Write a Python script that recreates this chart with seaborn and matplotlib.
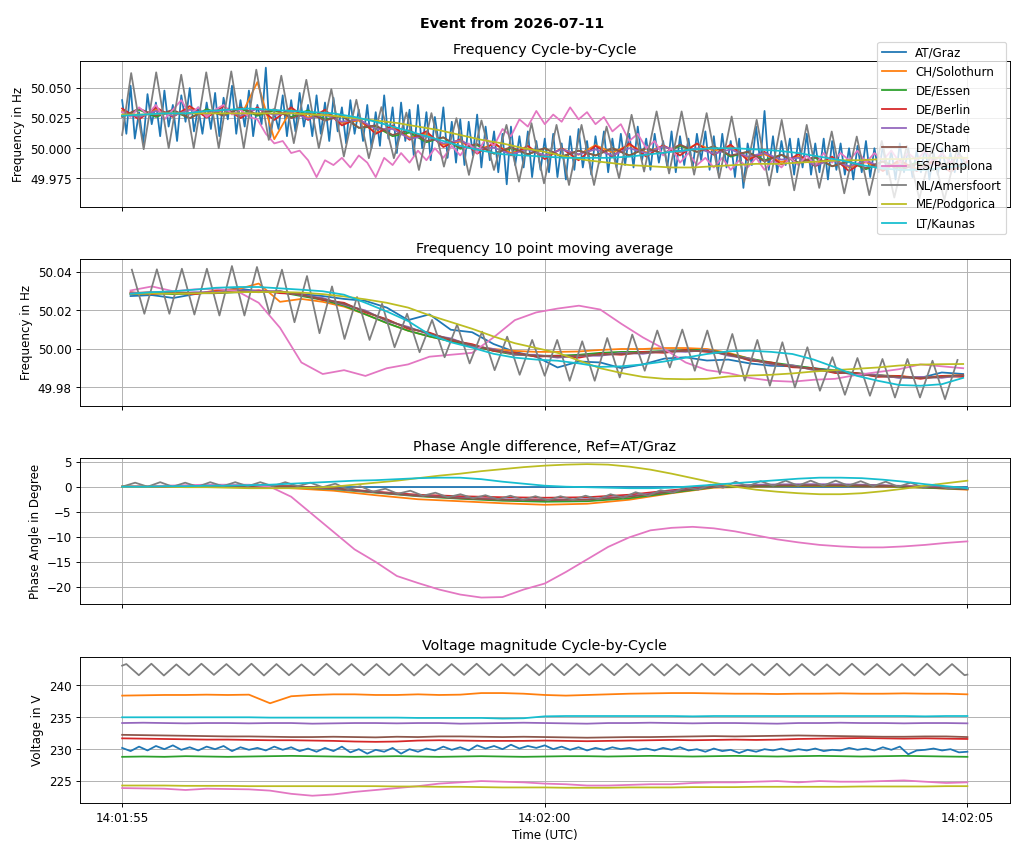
import numpy as np
import pandas as pd
import matplotlib
matplotlib.use("Agg")
import matplotlib.pyplot as plt
import matplotlib.dates as mdates
import seaborn as sns

stations = ["AT/Graz", "CH/Solothurn", "DE/Essen", "DE/Berlin", "DE/Stade",
            "DE/Cham", "ES/Pamplona", "NL/Amersfoort", "ME/Podgorica", "LT/Kaunas"]
start = pd.Timestamp("2026-07-11 14:01:55")
F_NOM = 50.0  # frequency lists below are deviations from 50 Hz in mHz

# sample times in seconds after 14:01:55
t_005 = np.round(np.arange(201) * 0.05, 2)
t_01 = np.round(np.arange(101) * 0.1, 2)
t_02 = np.round(np.arange(51) * 0.2, 2)
t_025 = np.round(np.arange(41) * 0.25, 2)
t_05 = np.round(np.arange(21) * 0.5, 2)
t_ma = np.linspace(0.1, 9.95, 40)
t_osc1 = np.concatenate([[0.0], 0.107 + 0.148 * np.arange(67), [10.0]])
t_osc2 = 0.115 + 0.148 * np.arange(67)
t_osc3 = np.concatenate([[0.0], 0.154 + 0.148 * np.arange(67), [10.0]])
t_osc4 = np.concatenate([[0.0], 0.05 + 0.148 * np.arange(68), [10.0]])

# ---- Frequency cycle-by-cycle (mHz from 50 Hz)
f1_graz = [40, 12, 52, 8, 30, 4, 45, 20, 38, 10, 48, 18, 36, 6, 44, 22, 50, 14, 34, 12,
           38, 16, 46, 10, 42, 24, 52, 12, 40, 18, 48, 10, 36, 20, 67, 8, 30, 16, 44, 10,
           40, 14, 46, 18, 36, 10, 44, 12, 38, 6, 42, 14, 34, 4, 40, 12, 32, 6, 36, 0,
           30, 2, 44, 8, 34, -4, 38, 6, 32, -6, 36, 0, 30, -10, 26, 2, 34, -8, 22, -12,
           24, -14, 22, -6, 28, -16, 18, -10, 14, -20, 12, -30, 18, -14, 10, -16, 14, -24, 6, -18,
           8, -20, 12, -24, 4, -26, 10, -18, 16, -16, 6, -22, 10, -12, 14, -20, 8, -16, 12, -14,
           12, -16, 18, -10, 8, -18, 12, -12, 6, -16, 14, -20, 10, -14, 8, -16, 12, -10, 14, -18,
           10, -20, 12, -16, 6, -24, 8, -33, 4, -14, 18, -12, 31, -18, 10, -20, 6, -14, 8, -22,
           8, -16, 12, -22, 4, -20, 8, -26, 6, -18, 4, -22, 0, -26, 2, -20, 6, -24, 0, -20,
           2, -22, -2, -26, 4, -20, 0, -24, -2, -20, 2, -26, -4, -22, 0, -18, -4, -20, -2, -16,
           -14]
f1_solothurn = [31, 26, 32, 27, 33, 26.5, 32, 26, 55, 7.5,
                32, 25.5, 30, 21, 23, 13, 17, 9, 12, 3,
                5.5, -1.5, 3.5, -4, 0, -6.5, -0.5, -5.5, 2.5, -3.5,
                2.5, -3.5, 2, -3.5, 3.5, -2, 1, -8, -5, -11.5,
                -7, -13, -8, -16, -11.5, -18, -11.5, -17, -12, -17.5,
                -12]
f1_essen = [27, 32, 26, 31, 25, 32.5, 28, 33, 27, 31.5,
            26, 31.5, 24, 27, 17, 18, 10, 13, 5, 9,
            -0.5, 2.5, -4.5, 0, -5, 0, -7, -2, -6, 0,
            -6, 0, -4.5, 2, -3, 1.5, -7, -3, -10, -5.5,
            -12, -8, -15, -11, -17.5, -11, -16.5, -12, -18, -12.5,
            -16]
f1_berlin = [33, 24, 34, 26, 35, 25.5, 35, 25, 34, 23.5,
             34, 23.5, 32, 19, 25, 12, 19, 7, 14, 1,
             7.5, -4.5, 4.5, -6, 2, -9, 0, -10, 2, -7,
             4, -7, 2.5, -6, 4, -5.5, 3, -10, -3, -13.5,
             -5, -15, -7, -19, -9.5, -19, -9.5, -19, -10, -19.5,
             -11]
f1_stade = [30, 26, 31, 27, 32, 28.5, 32, 27, 33, 27.5,
            30, 24.5, 28, 22, 24, 16, 16, 8, 10, 4,
            6.5, -0.5, 0.5, -5, -1, -6, -1, -5, -1, -6,
            0, -4, 1.5, -3, 0, -4.5, -1, -7, -4, -9.5,
            -8, -14, -10, -15, -10.5, -16, -13.5, -18, -13, -16.5,
            -13]
f1_cham = [26, 33, 27, 32, 25, 31.5, 27, 34, 28, 32.5,
           25, 29.5, 23, 27, 17, 19, 11, 15, 6, 9,
           0.5, 3.5, -4.5, 1, -5, 0, -7, -2, -6, 0,
           -6, 0, -4.5, 3, -3, 1.5, -6, -3, -11, -5.5,
           -12, -7, -15, -11, -16.5, -11, -18.5, -13, -18, -11.5,
           -16]
f1_pamplona = [30, 26, 34, 28, 36, 24, 32, 40, 28, 34,
               26, 32, 36, 28, 32, 26, 24, 12, 4, 6,
               -4, -2, -10, -24, -10, -14, -8, -16, -6, -12,
               -24, -8, -14, -4, -12, -2, -10, 0, -8, 2,
               -6, 4, -4, 8, 2, 16, 10, 24, 18, 31,
               20, 28, 22, 34, 24, 30, 20, 26, 14, 20,
               6, 12, 0, 6, -6, 0, -12, -4, -14, -8,
               -16, -8, -18, -10, -16, -8, -18, -10, -16, -8,
               -14, -6, -14, -4, -12, -4, -10, -2, -12, -4,
               -10, -2, -12, -4, -10, -2, -12, -4, -12, -6,
               -10]
f1_amersfoort = [11,
                 62.5, -0.8, 63.1, 0, 61.1, 0, 63.1, 0, 63.9, 0,
                 65.3, 6.9, 60.3, 4.2, 56.9, 0, 49.2, -6.9, 40.3, -8.3,
                 34.2, -8.3, 29.7, -18.1, 29.2, -15.3, 25.0, -22.2, 23.1, -18.1,
                 19.4, -27.8, 20.8, -29.2, 19.4, -30.6, 19.4, -30.6, 18.0, -25.0,
                 27.8, -19.4, 30.6, -21.0, 30.6, -22.0, 29.2, -25.0, 26.4, -28.0,
                 23.6, -31.0, 23.6, -35.0, 19.4, -33.0, 13.9, -37.5, 9.7, -39.0,
                 6.0, -41.0, 2.0, -42.0, 0.0, -43.0, -1.0,
                 -15]
f1_podgorica = [28, 28, 29, 29, 29, 29, 29, 29, 29, 28,
                27, 25, 23, 21, 18, 15, 11, 7, 4, 0,
                -3, -7, -10, -12, -14, -15, -16, -16, -15, -14,
                -13, -13, -12, -11, -10, -10, -9, -9, -8, -8,
                -8]
f1_kaunas = [27, 28, 29, 29, 31, 32, 33, 32, 31, 30,
             29, 26, 22, 17, 12, 7, 2, -2, -5, -6,
             -7, -8, -8, -8, -7, -5, -3, -1, 0, 0,
             -1, -2, -4, -7, -10, -14, -17, -18, -18, -16,
             -14]

# ---- Frequency 10 point moving average (mHz from 50 Hz)
f2_graz = [27.5, 28, 26.5, 28.5, 30, 31.5, 30, 29.5, 28.5, 27.5,
           26, 25, 21.5, 15, 18, 10, 8.7, 2.6, -1.5, -4,
           -9.6, -6.5, -7, -10, -8, -5, -4.3, -6, -5.5, -7.5,
           -8.7, -9, -10, -11, -13, -14, -14.8, -15, -12.2, -13]
f2_solothurn = [29, 29.5, 29, 28.5, 30.5, 31, 34, 24.5, 26, 24.5,
                22, 18, 13.5, 9.5, 6.5, 4, 1.5, 0, -1, -1.5,
                -1.5, -1.3, -0.5, 0, 0, 0.5, 0.5, 0, -2, -5,
                -7.5, -9, -10.5, -12, -13, -13.8, -14, -15, -14, -13.5]
f2_essen = [28.5, 29, 28.5, 29, 29, 29.5, 30, 29.5, 27.5, 25.5,
            22.5, 18, 13.5, 9.5, 6.5, 4, 1.5, -1, -3, -3.5,
            -3.5, -3, -2, -1.5, -1.5, -1, -0.5, -0.5, -2.5, -5,
            -7, -8.5, -10, -11.5, -12.5, -13.5, -14.5, -15, -14.5, -14]
f2_berlin = [29.5, 28.5, 29.5, 28.5, 30, 29.5, 30.5, 29, 28.5, 25.5,
             24, 19, 15.5, 10.5, 8.5, 4.5, 2.5, -1, -2, -4,
             -3.5, -4.5, -2.5, -3, -1.5, -2, -0.5, -1.5, -2.5, -6,
             -7, -9.5, -10, -12.5, -12.5, -14.5, -14, -15.5, -14, -14.5]
f2_stade = [29, 29.5, 29, 29.5, 29.5, 30.5, 30, 30, 28, 26.5,
            23, 20, 14.5, 11.5, 7.5, 5.5, 1.5, 0, -3, -3,
            -4.5, -3.5, -3.5, -2, -2.5, -1, -1.5, -0.5, -3.5, -5,
            -8, -8.5, -11, -11.5, -13.5, -13.5, -15, -14.5, -15, -13.5]
f2_cham = [28.5, 29, 29.5, 29, 29, 30, 29.5, 30, 28, 26,
           23.5, 19.5, 15, 11, 8, 5, 2, -0.5, -2.5, -3.5,
           -4, -3.5, -3, -2.5, -2, -1.5, -1, -1, -3, -5.5,
           -7.5, -9, -10.5, -12, -13, -14, -14.5, -15, -14.5, -13.5]
f2_pamplona = [30.4, 32.5, 30, 31, 31.3, 30, 24, 11, -7, -13,
               -11, -14, -10, -8, -4, -3, -2, 6, 15, 19,
               21, 22.5, 20.5, 13, 6, 0, -7, -11, -12.5, -15,
               -16.5, -17, -16, -15.5, -13.5, -12, -10.5, -8, -9, -10]
f2_amersfoort = [41.2, 18.3, 41.4, 18.3, 41.7, 17.9, 41.7, 17.4, 43.1, 17.4,
                 42.6, 18.3, 41.2, 13.9, 37.9, 8.2, 32.5, 5.2, 27.0, 4.7,
                 23.5, 0.9, 18.3, -1.7, 15.1, -4.3, 12.7, -7.5, 9.0, -11.0,
                 6.4, -13.4, 4.7, -13.9, 4.7, -16.5, 4.0, -16.5, 5.7, -14.8,
                 7.5, -11.3, 9.6, -9.6, 10.1, -11.3, 9.6, -13.0, 7.8, -16.5,
                 4.7, -19.1, 3.5, -20.0, 0.9, -21.7, -4.3, -23.8, -4.7, -24.3,
                 -5.2, -25.2, -5.2, -25.2, -6.1, -26.1, -5.7]
f2_podgorica = [28.7, 28.8, 28.8, 28.9, 29.2, 29.5, 29.6, 29.6, 29.3, 28.5,
                27.3, 25.8, 24, 21.5, 17.5, 14, 10.5, 6.5, 3, 0.5,
                -2, -6, -10, -12.5, -14.5, -15.5, -15.7, -15.5, -14.3, -13.8,
                -13.4, -12.7, -11.7, -11, -10.3, -9.6, -8.6, -8.1, -7.9, -7.8]
f2_kaunas = [28.7, 29.5, 30, 30.8, 31.8, 32.2, 32.2, 31.5, 30.8, 30,
             28.2, 24, 19.5, 14.5, 7.5, 3.5, 0.7, -2.5, -4.5, -5.5,
             -6.1, -7.5, -9.3, -9, -8, -6.5, -4.5, -2.6, -1.2, -0.9,
             -1.5, -2.6, -5.5, -9.5, -13.9, -16.5, -18.7, -19.1, -18.3, -15]

# ---- Phase angle difference (degree)
ph_graz = [0.0] * 21
ph_solothurn = [0, 0, 0, 0, -0.3, -0.8, -1.7, -2.5, -2.9, -3.3,
                -3.6, -3.4, -2.6, -1.3, -0.2, 0.0, 0.1, 0.1, 0.0, -0.2, -0.6]
ph_essen = [0, 0, 0, 0, -0.1, -0.5, -1.2, -1.9, -2.4, -2.8,
            -3.0, -2.9, -2.3, -1.2, -0.1, 0.1, 0.2, 0.2, 0.1, -0.2, -0.5]
ph_berlin = [0, 0, 0.1, 0.1, 0.1, -0.3, -1.0, -1.6, -1.9, -2.1,
             -2.2, -2.1, -1.6, -0.7, 0.1, 0.3, 0.3, 0.3, 0.2, 0.0, -0.3]
ph_stade = [0, 0, 0, 0, 0, -0.4, -1.1, -1.8, -2.2, -2.5,
            -2.6, -2.5, -1.9, -0.9, 0.0, 0.4, 0.5, 0.5, 0.3, 0.0, -0.3]
ph_cham = [0, 0, 0.1, 0.1, 0.1, -0.3, -1.1, -1.8, -2.3, -2.6,
           -2.7, -2.6, -2.0, -1.0, 0.0, 0.2, 0.3, 0.3, 0.2, -0.1, -0.5]
ph_pamplona = [0, 0.1, 0.2, 0.3, 0.4, 0.4, 0.4, 0.0, -2.0, -5.5,
               -9.0, -12.5, -15.0, -17.8, -19.2, -20.5, -21.5, -22.1, -22.0, -20.5,
               -19.3, -17.0, -14.5, -12.0, -10.1, -8.7, -8.2, -8.0, -8.3, -8.9,
               -9.7, -10.5, -11.1, -11.6, -11.9, -12.1, -12.1, -11.9, -11.6, -11.2,
               -10.9]
ph_amersfoort = [0.0,
                 0.8, 0.0, 0.9, 0.0, 0.8, 0.0, 0.9, 0.1, 0.9, 0.1,
                 0.9, 0.1, 0.9, 0.1, 0.8, -0.1, 0.6, -0.5, 0.1, -1.0,
                 -0.4, -1.4, -0.8, -1.8, -1.2, -2.1, -1.5, -2.3, -1.7, -2.5,
                 -1.8, -2.6, -1.9, -2.7, -1.9, -2.6, -1.8, -2.5, -1.5, -2.2,
                 -1.1, -1.8, -0.7, -1.2, -0.1, -0.6, 0.4, -0.2, 1.0, 0.1,
                 1.1, 0.2, 1.2, 0.2, 1.2, 0.2, 1.2, 0.2, 1.1, 0.1,
                 1.0, 0.0, 0.8, -0.2, 0.4, -0.4, -0.1,
                 -0.4]
ph_podgorica = [0, 0, 0, -0.1, -0.1, -0.2, -0.3, -0.3, -0.3, -0.2,
                0, 0.4, 0.8, 1.2, 1.7, 2.2, 2.6, 3.1, 3.5, 3.9,
                4.2, 4.4, 4.5, 4.4, 4.0, 3.4, 2.6, 1.7, 0.8, 0.0,
                -0.6, -1.0, -1.3, -1.5, -1.5, -1.3, -0.9, -0.4, 0.2, 0.7,
                1.2]
ph_kaunas = [0, 0, 0.1, 0.1, 0.2, 0.2, 0.3, 0.4, 0.6, 0.8,
             1.0, 1.2, 1.3, 1.5, 1.7, 1.8, 1.8, 1.5, 1.0, 0.6,
             0.2, 0.0, -0.1, -0.2, -0.3, -0.3, -0.2, 0.1, 0.4, 0.7,
             1.0, 1.3, 1.6, 1.8, 1.8, 1.7, 1.4, 1.0, 0.5, 0.1,
             -0.3]

# ---- Voltage magnitude (V)
u_graz = [230.2, 229.7, 230.4, 229.8, 230.5, 230.0, 230.6, 229.9, 230.3, 229.8,
          230.4, 230.0, 230.5, 229.7, 230.3, 229.9, 230.2, 229.8, 230.4, 229.9,
          230.3, 229.7, 230.1, 229.6, 230.2, 229.7, 230.4, 229.5, 230.0, 229.3,
          229.9, 229.6, 230.2, 229.3, 230.0, 229.6, 230.1, 229.8, 230.4, 229.9,
          230.3, 229.8, 230.6, 230.1, 230.5, 230.0, 230.7, 230.1, 230.5, 230.2,
          230.6, 230.0, 230.4, 229.9, 230.3, 229.8, 230.2, 229.9, 230.3, 230.0,
          230.2, 229.9, 230.1, 229.8, 230.2, 229.9, 230.3, 229.8, 230.0, 229.6,
          230.1, 229.7, 229.9, 229.4, 229.9, 229.6, 230.0, 229.8, 230.1, 229.7,
          230.0, 229.8, 230.1, 229.7, 229.9, 229.8, 230.2, 229.9, 230.1, 229.8,
          230.3, 229.9, 230.4, 229.2, 229.8, 229.9, 230.1, 229.8, 230.0, 229.5,
          229.6]
u_solothurn = [238.4, 238.45, 238.5, 238.5, 238.55, 238.5, 238.55, 237.2, 238.3, 238.5,
               238.6, 238.6, 238.5, 238.5, 238.6, 238.5, 238.55, 238.8, 238.8, 238.7,
               238.5, 238.4, 238.5, 238.6, 238.7, 238.75, 238.8, 238.8, 238.75, 238.7,
               238.7, 238.65, 238.7, 238.7, 238.75, 238.7, 238.7, 238.75, 238.7, 238.7,
               238.6]
u_essen = [228.8, 228.85, 228.8, 228.9, 228.85, 228.8, 228.85, 228.9, 228.95, 228.9,
           228.85, 228.8, 228.85, 228.9, 228.85, 228.8, 228.85, 228.9, 228.85, 228.8,
           228.85, 228.9, 228.9, 228.85, 228.9, 228.95, 228.9, 228.85, 228.9, 228.95,
           228.9, 228.85, 228.9, 228.95, 228.9, 228.85, 228.9, 228.95, 228.9, 228.85,
           228.8]
u_berlin = [231.7, 231.65, 231.6, 231.55, 231.5, 231.5, 231.45, 231.4, 231.4, 231.35,
            231.3, 231.2, 231.15, 231.2, 231.35, 231.4, 231.35, 231.3, 231.3, 231.3,
            231.35, 231.3, 231.25, 231.3, 231.35, 231.4, 231.45, 231.4, 231.45, 231.5,
            231.45, 231.5, 231.6, 231.65, 231.7, 231.75, 231.7, 231.65, 231.7, 231.65,
            231.6]
u_stade = [234.1, 234.15, 234.1, 234.05, 234.1, 234.1, 234.05, 234.1, 234.1, 234.0,
           234.05, 234.1, 234.1, 234.05, 234.1, 234.1, 234.0, 234.05, 234.1, 234.15,
           234.1, 234.05, 234.0, 234.1, 234.1, 234.15, 234.1, 234.05, 234.1, 234.1,
           234.05, 234.0, 234.1, 234.1, 234.15, 234.1, 234.1, 234.05, 234.1, 234.1,
           234.05]
u_cham = [232.25, 232.2, 232.15, 232.1, 232.05, 232.0, 232.0, 231.95, 231.9, 231.9,
          231.95, 231.9, 231.85, 231.95, 231.9, 232.0, 232.0, 231.95, 231.9, 231.95,
          231.9, 231.85, 231.8, 231.85, 231.9, 231.9, 231.95, 232.0, 232.05, 232.0,
          232.05, 232.1, 232.15, 232.1, 232.05, 232.0, 231.95, 231.95, 232.0, 232.0,
          231.9]
u_pamplona = [223.9, 223.85, 223.8, 223.6, 223.8, 223.75, 223.7, 223.5, 223.0, 222.7,
              222.9, 223.3, 223.6, 223.9, 224.2, 224.6, 224.8, 225.0, 224.9, 224.8,
              224.6, 224.5, 224.3, 224.3, 224.4, 224.5, 224.5, 224.7, 224.8, 224.8,
              224.9, 225.0, 224.8, 225.0, 224.9, 224.9, 225.0, 225.1, 224.9, 224.7,
              224.8]
u_amersfoort = [243.1,
                243.35, 241.6, 243.4, 241.55, 243.3, 241.6, 243.4, 241.65, 243.35, 241.6,
                243.4, 241.55, 243.35, 241.6, 243.3, 241.6, 243.4, 241.65, 243.35, 241.6,
                243.35, 241.6, 243.4, 241.55, 243.3, 241.6, 243.35, 241.65, 243.4, 241.6,
                243.35, 241.55, 243.3, 241.6, 243.4, 241.6, 243.35, 241.65, 243.35, 241.6,
                243.4, 241.6, 243.35, 241.55, 243.3, 241.6, 243.4, 241.6, 243.35, 241.65,
                243.35, 241.6, 243.4, 241.55, 243.35, 241.6, 243.3, 241.6, 243.4, 241.65,
                243.35, 241.6, 243.35, 241.55, 243.4, 241.6, 243.35, 241.6,
                241.7]
u_podgorica = [224.3, 224.3, 224.3, 224.25, 224.25, 224.25, 224.2, 224.2, 224.2, 224.2,
               224.2, 224.2, 224.2, 224.15, 224.15, 224.1, 224.1, 224.05, 224.0, 224.0,
               224.0, 223.95, 223.95, 223.95, 224.0, 224.0, 224.0, 224.05, 224.05, 224.05,
               224.1, 224.1, 224.1, 224.1, 224.1, 224.15, 224.15, 224.15, 224.15, 224.2,
               224.2]
u_kaunas = [235.0, 235.0, 235.0, 235.0, 235.0, 235.0, 235.0, 234.95, 234.95, 234.95,
            234.95, 234.95, 234.95, 234.95, 234.9, 234.9, 234.9, 234.9, 234.8, 234.85,
            235.15, 235.2, 235.2, 235.2, 235.2, 235.2, 235.2, 235.15, 235.2, 235.2,
            235.2, 235.2, 235.2, 235.2, 235.2, 235.2, 235.2, 235.2, 235.15, 235.2,
            235.2]


def mhz(values):
    return F_NOM + np.asarray(values, dtype=float) / 1000.0


panels = [
    {
        "title": "Frequency Cycle-by-Cycle", "ylabel": "Frequency in Hz",
        "series": [(t_005, mhz(f1_graz)), (t_02, mhz(f1_solothurn)), (t_02, mhz(f1_essen)),
                   (t_02, mhz(f1_berlin)), (t_02, mhz(f1_stade)), (t_02, mhz(f1_cham)),
                   (t_01, mhz(f1_pamplona)), (t_osc1, mhz(f1_amersfoort)),
                   (t_025, mhz(f1_podgorica)), (t_025, mhz(f1_kaunas))],
        "ylim": (49.951, 50.0728), "yticks": [49.975, 50.0, 50.025, 50.05], "fmt": "%.3f",
    },
    {
        "title": "Frequency 10 point moving average", "ylabel": "Frequency in Hz",
        "series": [(t_ma, mhz(f2_graz)), (t_ma, mhz(f2_solothurn)), (t_ma, mhz(f2_essen)),
                   (t_ma, mhz(f2_berlin)), (t_ma, mhz(f2_stade)), (t_ma, mhz(f2_cham)),
                   (t_ma, mhz(f2_pamplona)), (t_osc2, mhz(f2_amersfoort)),
                   (t_ma, mhz(f2_podgorica)), (t_ma, mhz(f2_kaunas))],
        "ylim": (49.9705, 50.0466), "yticks": [49.98, 50.0, 50.02, 50.04], "fmt": "%.2f",
    },
    {
        "title": "Phase Angle difference, Ref=AT/Graz", "ylabel": "Phase Angle in Degree",
        "series": [(t_05, ph_graz), (t_05, ph_solothurn), (t_05, ph_essen), (t_05, ph_berlin),
                   (t_05, ph_stade), (t_05, ph_cham), (t_025, ph_pamplona),
                   (t_osc3, ph_amersfoort), (t_025, ph_podgorica), (t_025, ph_kaunas)],
        "ylim": (-23.46, 5.74), "yticks": [-20, -15, -10, -5, 0, 5], "fmt": None,
    },
    {
        "title": "Voltage magnitude Cycle-by-Cycle", "ylabel": "Voltage in V",
        "series": [(t_01, u_graz), (t_025, u_solothurn), (t_025, u_essen), (t_025, u_berlin),
                   (t_025, u_stade), (t_025, u_cham), (t_025, u_pamplona),
                   (t_osc4, u_amersfoort), (t_025, u_podgorica), (t_025, u_kaunas)],
        "ylim": (221.56, 244.53), "yticks": [225, 230, 235, 240], "fmt": None,
    },
]

fig, axes = plt.subplots(4, 1, figsize=(12, 10), dpi=1024 / 12, sharex=True)
fig.subplots_adjust(left=0.078, right=0.986, top=0.9285, bottom=0.0586, hspace=0.356)

for i, (ax, p) in enumerate(zip(axes, panels)):
    frames = []
    for name, (t, v) in zip(stations, p["series"]):
        frames.append(pd.DataFrame({
            "time": start + pd.to_timedelta(np.asarray(t, dtype=float), unit="s"),
            "value": np.asarray(v, dtype=float),
            "station": name,
        }))
    df = pd.concat(frames, ignore_index=True)
    sns.lineplot(data=df, x="time", y="value", hue="station", hue_order=stations,
                 palette="tab10", estimator=None, linewidth=1.5, ax=ax, legend=(i == 0))
    ax.set_title(p["title"])
    ax.set_ylabel(p["ylabel"])
    ax.set_xlabel("")
    ax.set_ylim(*p["ylim"])
    ax.set_yticks(p["yticks"])
    if p["fmt"]:
        ax.yaxis.set_major_formatter(matplotlib.ticker.FormatStrFormatter(p["fmt"]))
    ax.grid(True)

axes[-1].set_xlim(start - pd.Timedelta(seconds=0.5), start + pd.Timedelta(seconds=10.5))
axes[-1].xaxis.set_major_locator(mdates.SecondLocator(bysecond=range(0, 60, 5)))
axes[-1].xaxis.set_major_formatter(mdates.DateFormatter("%H:%M:%S"))
axes[-1].set_xlabel("Time (UTC)")

handles, labels = axes[0].get_legend_handles_labels()
axes[0].get_legend().remove()
fig.legend(handles, labels, loc="upper right", bbox_to_anchor=(1006 / 1024, 1 - 42 / 853),
           borderaxespad=0)

fig.suptitle("Event from 2026-07-11", fontweight="bold")
fig.savefig("out.png", dpi=1024 / 12)
